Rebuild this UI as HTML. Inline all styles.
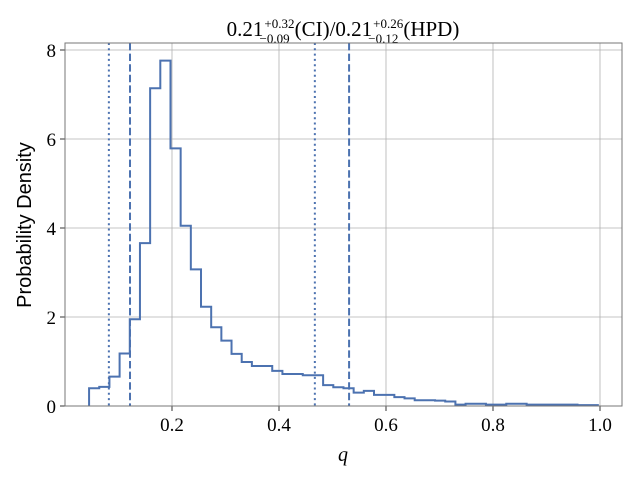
<!DOCTYPE html>
<html><head><meta charset="utf-8"><style>
body{margin:0;background:#fff;width:640px;height:480px;overflow:hidden}
text{font-family:"Liberation Serif",serif;fill:#000}
</style></head><body>
<svg id="chart" width="640" height="480" xmlns="http://www.w3.org/2000/svg">
<text x="343" y="36" text-anchor="middle" font-size="21">0.21<tspan font-size="13" dx="1" dy="-8">+0.32</tspan><tspan font-size="13" dx="-35" dy="15">−0.09</tspan><tspan dx="5" dy="-7">(CI)/0.21</tspan><tspan font-size="13" dx="1" dy="-8">+0.26</tspan><tspan font-size="13" dx="-35" dy="15">−0.12</tspan><tspan dx="5" dy="-7">(HPD)</tspan></text>
<text transform="translate(31,225) rotate(-90)" text-anchor="middle" font-size="20" style="font-family:'Liberation Sans',sans-serif">Probability Density</text>
<text x="343" y="461" text-anchor="middle" font-size="20" font-style="italic">q</text>
<g id="grid"></g><g id="marks"></g><g id="axes"></g>
</svg>
<script>
const binStart = 0.045;
const binWidth = 0.01902;
const density = [0.40,0.43,0.66,1.18,1.95,3.66,7.14,7.76,5.79,4.05,3.07,2.23,1.77,1.47,1.17,0.99,0.90,0.90,0.79,0.72,0.72,0.69,0.69,
0.47,0.42,0.40,0.30,0.34,0.25,0.25,0.20,0.17,0.13,0.13,0.12,0.10,0.03,0.05,0.05,0.03,0.03,0.05,0.05,0.03,0.03,0.03,0.03,0.03,0.02,0.02];
const ciLines = [0.082, 0.467];
const hpdLines = [0.1215, 0.531];
const xTicks = [0.2,0.4,0.6,0.8,1.0];
const xTickLabels = ["0.2","0.4","0.6","0.8","1.0"];
const yTicks = [0,2,4,6,8];
const yTickLabels = ["0","2","4","6","8"];

const L=65,R=622,T=43,B=406;
const X=v=>172+(v-0.2)*535;
const Y=v=>406-v*44.5;
const NS="http://www.w3.org/2000/svg";
function mk(tag,parent,attrs){const e=document.createElementNS(NS,tag);for(const k in attrs)e.setAttribute(k,attrs[k]);document.getElementById(parent).appendChild(e);return e;}

xTicks.forEach((t,i)=>{
  const g=mk('line','grid',{x1:X(t),x2:X(t),y1:T,y2:B,stroke:'#b0b0b0','stroke-width':0.8});
  
  
  const tk=mk('line','axes',{x1:X(t),x2:X(t),y1:B,y2:B+5,stroke:'#000','stroke-width':0.8});
  
  
  const tx=mk('text','axes',{x:X(t),y:B+25,'text-anchor':'middle','font-size':19});
  tx.textContent=xTickLabels[i];
  
  
});
yTicks.forEach((t,i)=>{
  const g=mk('line','grid',{x1:L,x2:R,y1:Y(t),y2:Y(t),stroke:'#b0b0b0','stroke-width':0.8});
  
  
  const tk=mk('line','axes',{x1:L-5,x2:L,y1:Y(t),y2:Y(t),stroke:'#000','stroke-width':0.8});
  
  
  const tx=mk('text','axes',{x:L-9,y:Y(t)+7,'text-anchor':'end','font-size':19});
  tx.textContent=yTickLabels[i];
  
  
});
const frame=mk('rect','axes',{x:L,y:T,width:R-L,height:B-T,fill:'none',stroke:'#777','stroke-width':1});



let d=`M${X(binStart)},${Y(0)}`;
density.forEach((v,i)=>{
  const x0=X(binStart+i*binWidth),x1=X(binStart+(i+1)*binWidth);
  d+=` L${x0},${Y(v)} L${x1},${Y(v)}`;
});
d+=` L${X(binStart+density.length*binWidth)},${Y(0)}`;
const h=mk('path','marks',{d:d,fill:'none',stroke:'#4c72b0','stroke-width':2});



ciLines.forEach(v=>{
  const l=mk('line','marks',{x1:X(v),x2:X(v),y1:T,y2:B,stroke:'#4c72b0','stroke-width':2,'stroke-dasharray':'2,3.3'});
  
  
});
hpdLines.forEach(v=>{
  const l=mk('line','marks',{x1:X(v),x2:X(v),y1:T,y2:B,stroke:'#4c72b0','stroke-width':2,'stroke-dasharray':'7.4,3.2'});
  
  
});
</script>
</body></html>
